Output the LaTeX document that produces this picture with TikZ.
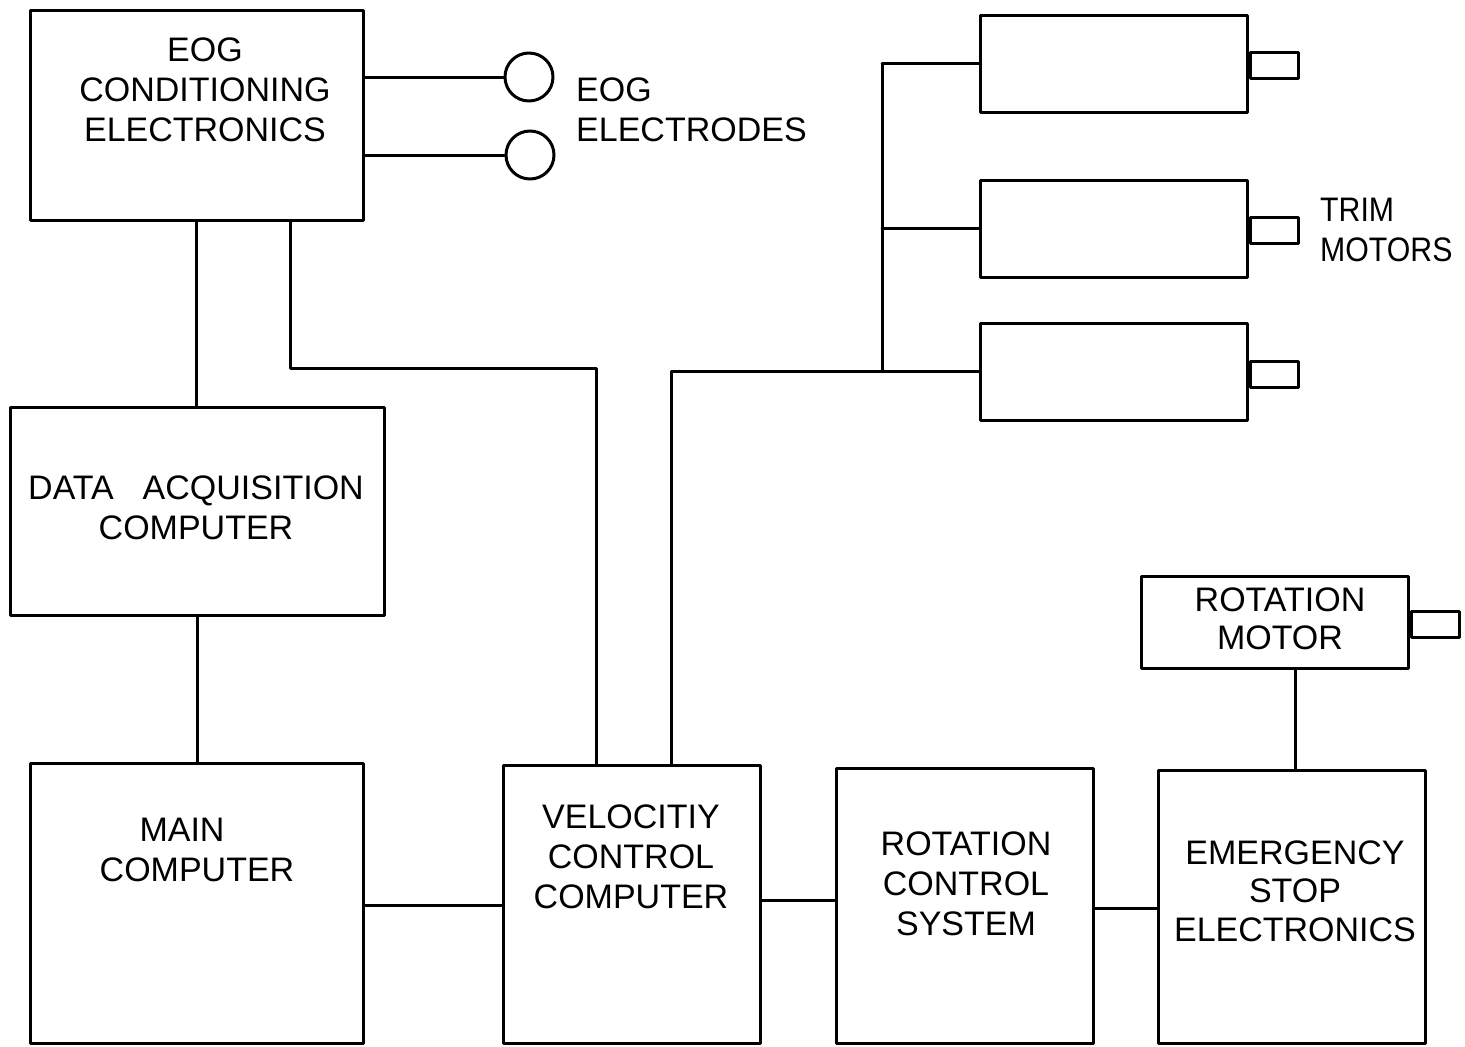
\documentclass[tikz,border=0pt]{standalone}
\usepackage{fontspec}
\setmainfont{Liberation Sans}
\newfontfamily\narrowfont{Liberation Sans}[FakeStretch=0.89]
\begin{document}
\begin{tikzpicture}[x=1pt,y=-1pt,
  ln/.style={line width=3pt, line cap=round, line join=round},
  blk/.style={draw, ln, rectangle, inner sep=0pt, minimum width=#1},
  shaft/.style={draw, ln, rectangle, inner sep=0pt, minimum width=48pt, minimum height=26pt, anchor=west},
  elec/.style={draw, ln, circle, inner sep=0pt, minimum size=48pt},
  lbl/.style={align=center, inner sep=0pt, font=\fontsize{34}{40}\selectfont},
  lbll/.style={align=left, inner sep=0pt, font=\fontsize{34}{40}\selectfont}
]
\useasboundingbox (0,0) rectangle (1465,1047);
% blocks
\node[blk=333pt, minimum height=210pt] (eog) at (196.5,115) {};
\node[blk=374pt, minimum height=208pt] (daq) at (197,511) {};
\node[blk=333pt, minimum height=280pt] (main) at (196.5,903) {};
\node[blk=257pt, minimum height=278pt] (vel) at (631.5,904) {};
\node[blk=257pt, minimum height=275pt] (rcs) at (964.5,905.5) {};
\node[blk=267pt, minimum height=273pt] (esd) at (1291.5,906.5) {};
\node[blk=267pt, minimum height=92pt] (rmot) at (1274.5,622) {};
\node[blk=267pt, minimum height=97pt] (tm1) at (1113.5,63.5) {};
\node[blk=267pt, minimum height=97pt] (tm2) at (1113.5,228.5) {};
\node[blk=267pt, minimum height=97pt] (tm3) at (1113.5,371.5) {};
% shafts
\node[shaft] (s1) at ([yshift=-1.5pt]tm1.east) {};
\node[shaft] (s2) at ([yshift=-1.5pt]tm2.east) {};
\node[shaft] (s3) at ([yshift=-2.5pt]tm3.east) {};
\node[shaft] (s4) at ([yshift=-2pt]rmot.east) {};
% electrodes
\node[elec] (e1) at (529,77) {};
\node[elec] (e2) at (530,155) {};
% labels
\node[lbl] (teog) at (205,90) {EOG\\CONDITIONING\\ELECTRONICS};
\node[lbll, anchor=west] (tel) at (576,110) {EOG\\ELECTRODES};
\node[lbl] (tdaq) at (196,508) {DATA\hspace{0.85em}ACQUISITION\\COMPUTER};
\node[lbl] (tmain) at (197,850) {MAIN\hspace{30pt}\mbox{}\\COMPUTER};
\node[lbl] (tvel) at (631,857) {VELOCITIY\\CONTROL\\COMPUTER};
\node[lbl] (trcs) at (966,884) {ROTATION\\CONTROL\\SYSTEM};
\node[lbl, font=\fontsize{34}{38.5}\selectfont] (tesd) at (1295,891) {EMERGENCY\\STOP\\ELECTRONICS};
\node[lbl, font=\fontsize{34}{38}\selectfont] (trm) at (1280,619) {ROTATION\\MOTOR};
\node[lbll, anchor=west, font=\narrowfont\fontsize{34}{40}\selectfont] (ttrim) at (1320,230) {TRIM\\MOTORS};
% connectors
\draw[ln] (eog.east |- e1.west) -- (e1.west);
\draw[ln] (eog.east |- e2.west) -- (e2.west);
\draw[ln] (eog.south) -- (eog.south |- daq.north);
\draw[ln] (daq.south) -- (daq.south |- main.north);
\coordinate (v1) at (596,368);
\draw[ln] ([xshift=93.5pt]eog.south) |- (v1) -- (v1 |- vel.north);
\coordinate (v2) at (671,371.5);
\coordinate (jn) at (882,371.5);
\draw[ln] (v2 |- vel.north) -- (v2) -- (tm3.west);
\draw[ln] (jn |- tm1.west) -- (jn);
\draw[ln] (jn |- tm1.west) -- (tm1.west);
\draw[ln] (jn |- tm2.west) -- (tm2.west);
\draw[ln] ([yshift=-2pt]main.east) -- ([yshift=-2pt]main.east -| vel.west);
\draw[ln] ([yshift=4pt]vel.east) -- ([yshift=4pt]vel.east -| rcs.west);
\draw[ln] ([yshift=-2.5pt]rcs.east) -- ([yshift=-2.5pt]rcs.east -| esd.west);
\draw[ln] ([xshift=20.5pt]rmot.south) -- ([xshift=20.5pt]rmot.south |- esd.north);
\end{tikzpicture}
\end{document}
